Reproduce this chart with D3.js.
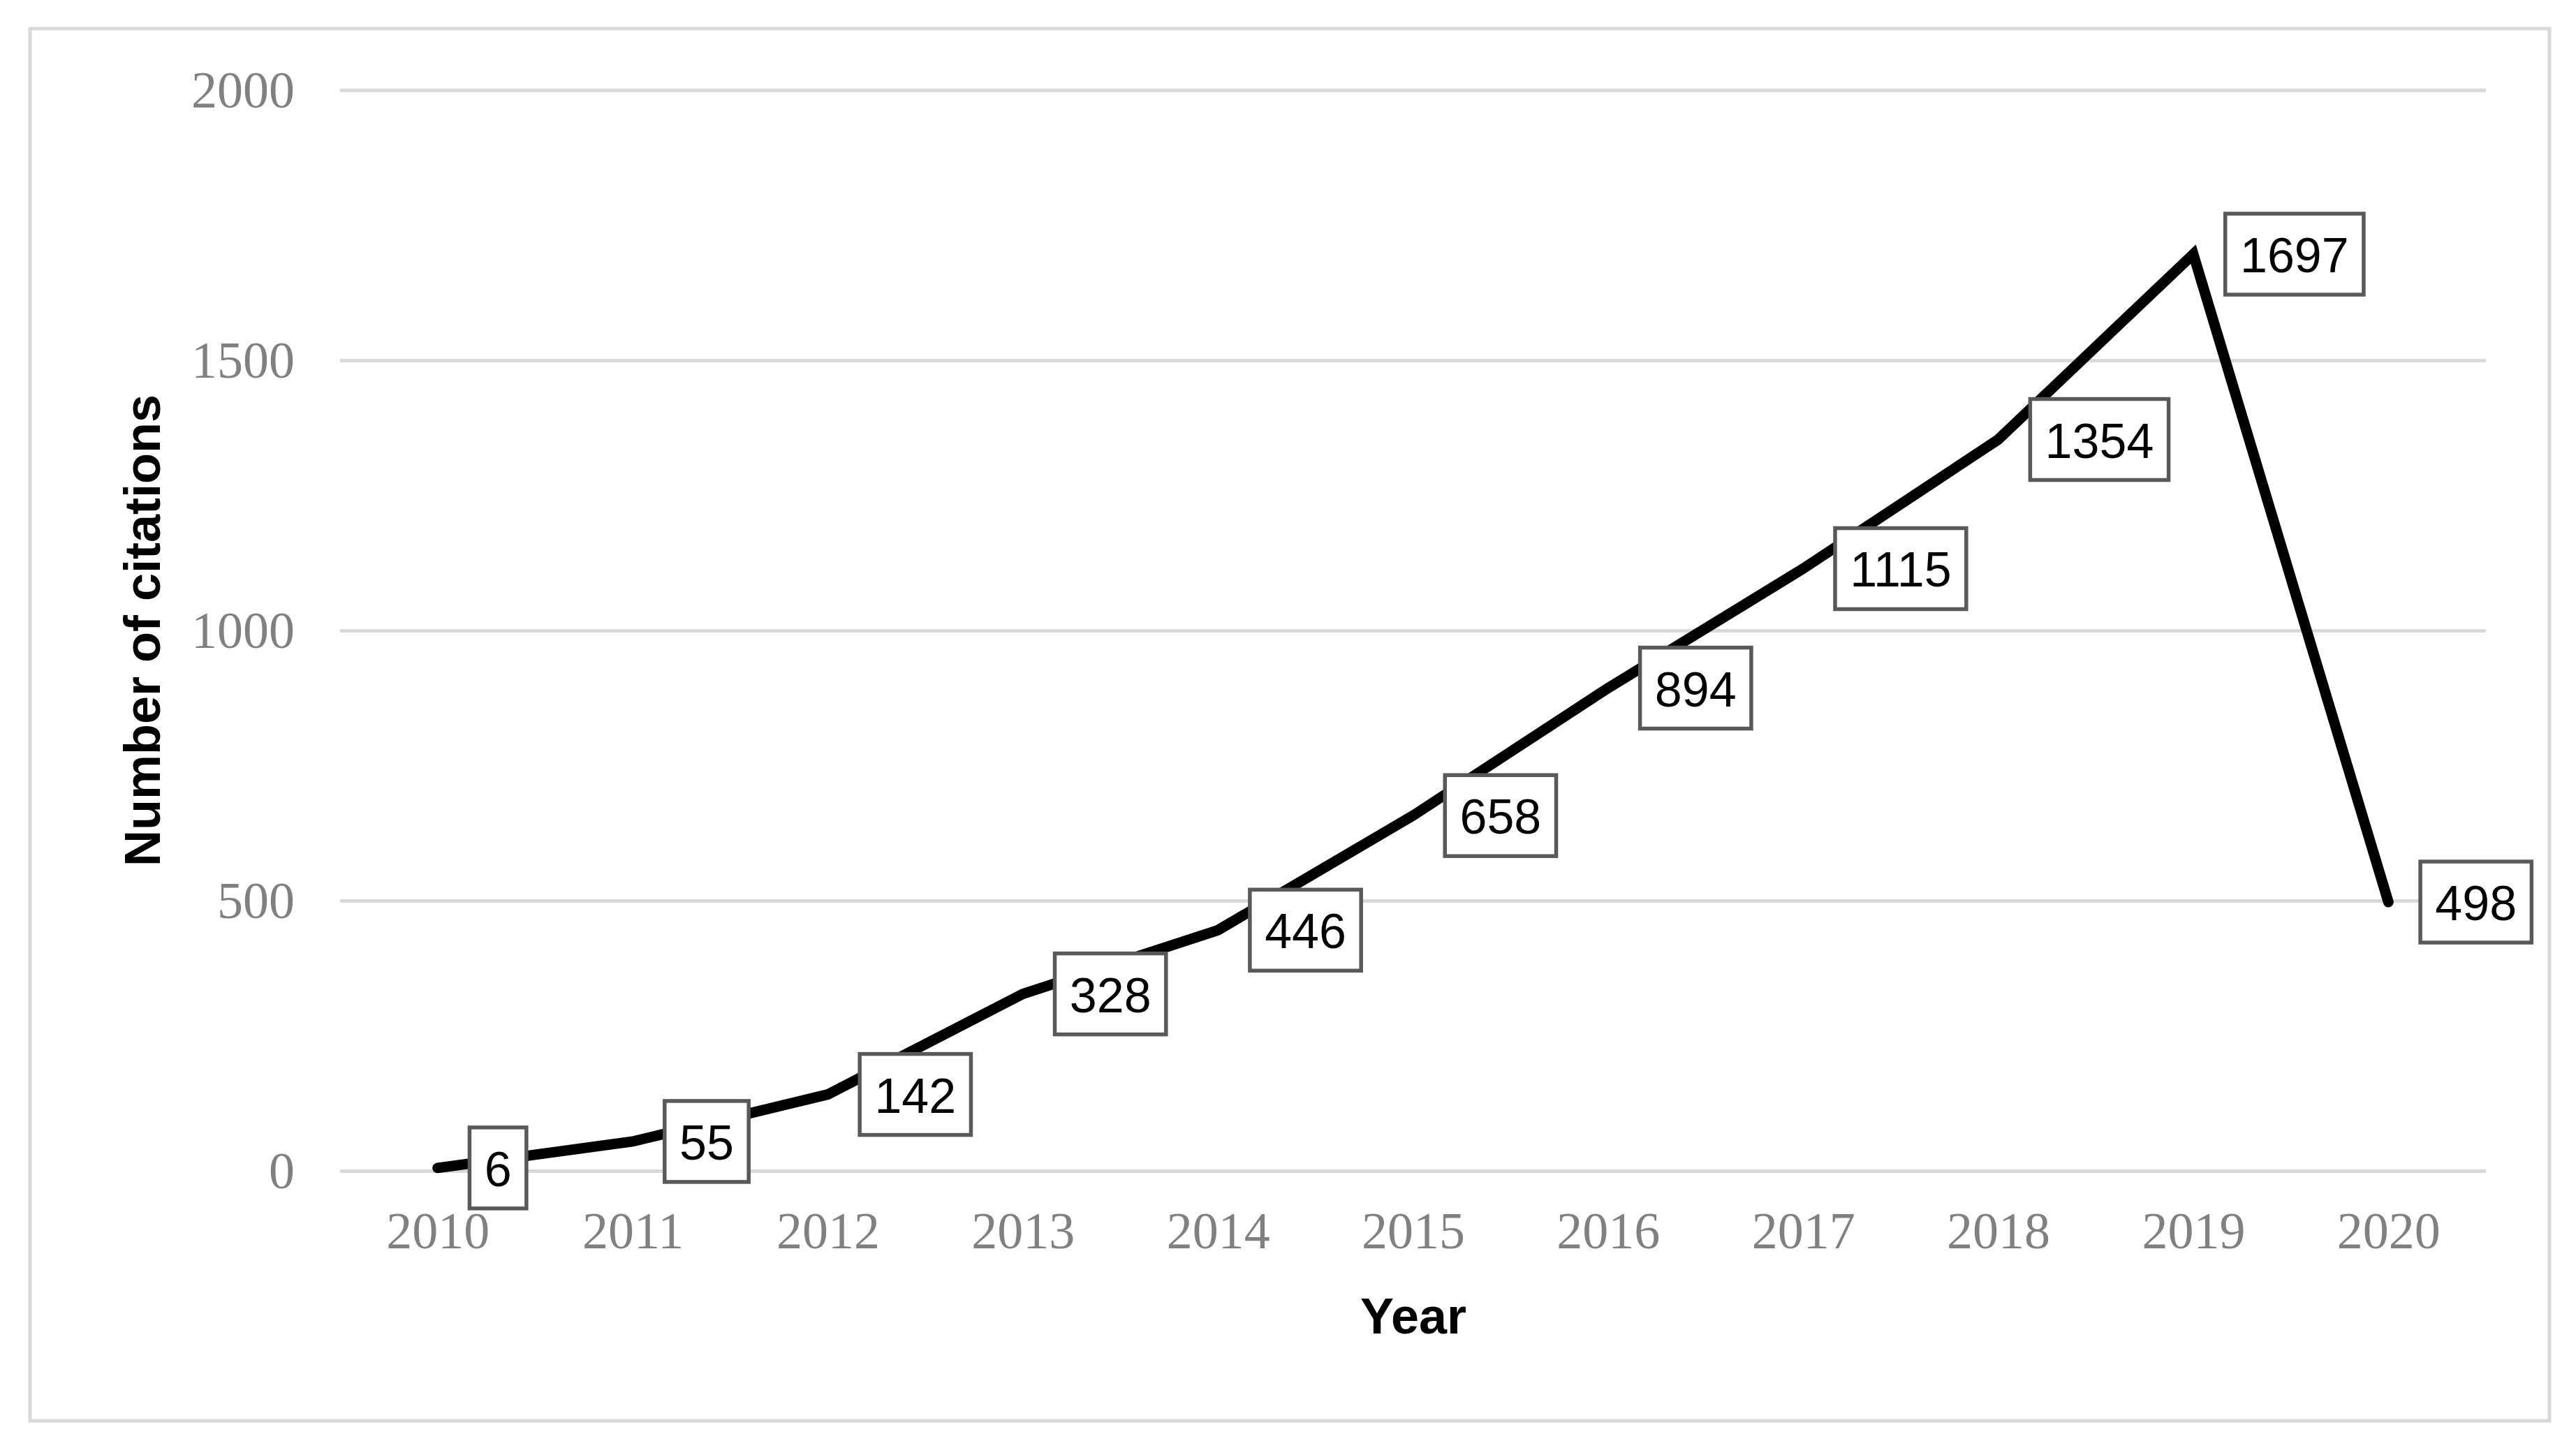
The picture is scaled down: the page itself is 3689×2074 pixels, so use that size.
<!DOCTYPE html>
<html><head><meta charset="utf-8">
<script src="https://cdn.jsdelivr.net/npm/d3@7"></script>
<style>html,body{margin:0;padding:0;background:#fff;overflow:hidden}</style>
</head><body>
<script>
const years = ["2010","2011","2012","2013","2014","2015","2016","2017","2018","2019","2020"];
const citations = [6,55,142,328,446,658,894,1115,1354,1697,498];
const yTicks = [0,500,1000,1500,2000];
const xTitle = "Year";
const yTitle = "Number of citations";

const W = 3689, H = 2074;
const svg = d3.select("body").append("svg").attr("width",W).attr("height",H);
svg.append("rect").attr("x",0).attr("y",0).attr("width",W).attr("height",H).attr("fill","#fff");
// outer chart border
svg.append("rect").attr("x",43).attr("y",41).attr("width",3608).attr("height",1994)
  .attr("fill","none").attr("stroke","#d9d9d9").attr("stroke-width",5);

const x = d3.scalePoint().domain(years).range([487,3560]).padding(0.5);
const y = d3.scaleLinear().domain([0,2000]).range([1677.5,129.5]);

// gridlines
svg.append("g").selectAll("line").data(yTicks).join("line")
  .attr("x1",487).attr("x2",3560).attr("y1",d=>y(d)).attr("y2",d=>y(d))
  .attr("stroke","#d9d9d9").attr("stroke-width",5);

// y axis labels
const yAxis = d3.axisLeft(y).tickValues(yTicks).tickFormat(d3.format("d")).tickSize(0).tickPadding(0);
const gy = svg.append("g").attr("transform","translate(422,0)").call(yAxis);
gy.select(".domain").remove();
gy.selectAll("text").attr("font-family","'Liberation Serif', serif").attr("font-size",74)
  .attr("fill","#808080").attr("dy",null)
  .attr("transform","translate(0,24)");

// x axis labels
const xAxis = d3.axisBottom(x).tickSize(0).tickPadding(0);
const gx = svg.append("g").attr("transform","translate(0,1788)").call(xAxis);
gx.select(".domain").remove();
gx.selectAll("text").attr("font-family","'Liberation Serif', serif").attr("font-size",74)
  .attr("fill","#808080").attr("dy",0).attr("y",0);

// line
const line = d3.line().x((d,i)=>x(years[i])).y(d=>y(d));
svg.append("path").datum(citations).attr("d",line).attr("fill","none")
  .attr("stroke","#000").attr("stroke-width",15).attr("stroke-linecap","round").attr("stroke-linejoin","miter");

// data labels
const lg = svg.append("g").selectAll("g").data(citations).join("g")
  .attr("transform",(d,i)=>`translate(${x(years[i])+43},${y(d)})`);
const rects = lg.append("rect").attr("fill","#fff").attr("stroke","#595959").attr("stroke-width",5.5);
const texts = lg.append("text").text(d=>d).attr("font-family","'Liberation Sans', Arial, sans-serif")
  .attr("font-size",70).attr("fill","#000").attr("y",26);
texts.each(function(d){
  const w = this.getComputedTextLength();
  const bw = w + 48;
  d3.select(this).attr("x", bw/2).attr("text-anchor","middle");
  d3.select(this.parentNode).select("rect").attr("x",2.75).attr("y",-58).attr("width",bw-5.5).attr("height",116);
});

// axis titles
svg.append("text").text(xTitle).attr("x",2024).attr("y",1910).attr("text-anchor","middle")
  .attr("font-family","'Liberation Sans', Arial, sans-serif").attr("font-weight","bold").attr("font-size",72);
svg.append("text").text(yTitle).attr("transform","translate(229,903) rotate(-90)").attr("text-anchor","middle")
  .attr("font-family","'Liberation Sans', Arial, sans-serif").attr("font-weight","bold").attr("font-size",72);
</script>
</body></html>
